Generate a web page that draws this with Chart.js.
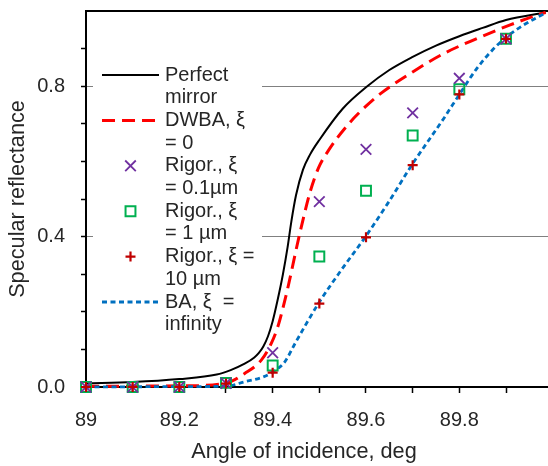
<!DOCTYPE html>
<html>
<head>
<meta charset="utf-8">
<script src="https://cdn.jsdelivr.net/npm/chart.js@4/dist/chart.umd.min.js"></script>
<style>
  html, body { margin: 0; padding: 0; background: #ffffff; overflow: hidden; }
  #wrap { position: relative; width: 548px; height: 466px; }
</style>
</head>
<body>
<div id="wrap"><canvas id="chart" width="548" height="466"></canvas></div>
<script>
// Rigorous calculations: incidence angles (deg) and specular reflectance
const angles   = [89.0, 89.1, 89.2, 89.3, 89.4, 89.5, 89.6, 89.7, 89.8, 89.9];
const rigor01  = [0.000, 0.000, 0.000, 0.010, 0.091, 0.493, 0.632, 0.729, 0.821, 0.926];
const rigor1   = [0.000, 0.000, 0.000, 0.011, 0.057, 0.347, 0.522, 0.669, 0.792, 0.926];
const rigor10  = [0.000, 0.000, 0.000, 0.009, 0.038, 0.222, 0.398, 0.590, 0.778, 0.926];

// Perfect mirror curve
const mirrorX = [89.00, 89.10, 89.20, 89.28, 89.31, 89.34, 89.36, 89.37, 89.38, 89.39, 89.40, 89.41, 89.422, 89.432, 89.44, 89.45, 89.465, 89.48, 89.50, 89.55, 89.60, 89.65, 89.70, 89.75, 89.80, 89.85, 89.90, 89.985];
const mirrorY = [0.010, 0.013, 0.021, 0.033, 0.045, 0.062, 0.078, 0.090, 0.108, 0.135, 0.175, 0.228, 0.300, 0.372, 0.440, 0.510, 0.578, 0.618, 0.657, 0.740, 0.797, 0.843, 0.878, 0.908, 0.933, 0.955, 0.976, 0.996];

// DWBA, xi = 0
const dwbaX = [89.00, 89.20, 89.30, 89.34, 89.376, 89.397, 89.411, 89.42, 89.434, 89.452, 89.466, 89.48, 89.498, 89.52, 89.563, 89.60, 89.634, 89.70, 89.767, 89.838, 89.909, 89.966, 89.985];
const dwbaY = [0.002, 0.003, 0.010, 0.036, 0.072, 0.116, 0.160, 0.200, 0.272, 0.375, 0.450, 0.518, 0.582, 0.630, 0.700, 0.747, 0.783, 0.838, 0.887, 0.927, 0.963, 0.989, 0.996];

// BA, xi = infinity
const baX = [89.00, 89.20, 89.30, 89.34, 89.38, 89.40, 89.426, 89.448, 89.498, 89.547, 89.598, 89.647, 89.698, 89.767, 89.80, 89.838, 89.87, 89.90, 89.938, 89.985];
const baY = [0.000, 0.001, 0.002, 0.014, 0.027, 0.040, 0.067, 0.116, 0.222, 0.311, 0.398, 0.489, 0.590, 0.715, 0.778, 0.848, 0.895, 0.930, 0.963, 0.995];

// Axis ticks
const xTicks = [89.0, 89.1, 89.2, 89.3, 89.4, 89.5, 89.6, 89.7, 89.8, 89.9];
const yTicks = [0.0, 0.1, 0.2, 0.3, 0.4, 0.5, 0.6, 0.7, 0.8, 0.9, 1.0];
const yLabelled = [0.0, 0.4, 0.8];
const yGridLines = [0.4, 0.8];
const xTitle = 'Angle of incidence, deg';

const FONT = "'Liberation Sans', Arial, Helvetica, sans-serif";
const TEXT = '#262626';

const pts = (xs, ys) => xs.map((x, i) => ({ x: x, y: ys[i] }));
const tenth = v => Math.round(v * 10);

// Two-line legend drawn inside the plot, top left, plus the x-axis caption
const boxLegend = {
  id: 'boxLegend',
  afterDatasetsDraw(chart) {
    const { ctx, chartArea } = chart;
    const left = chartArea.left + 7;
    const top = chartArea.top + 47;
    const rowH = 22.7;
    ctx.save();
    ctx.fillStyle = '#ffffff';
    ctx.fillRect(left, top, 169, 282);
    ctx.font = '20px ' + FONT;
    ctx.textBaseline = 'middle';
    ctx.textAlign = 'left';
    const sx0 = left + 9, sx1 = left + 66, sxc = (sx0 + sx1) / 2, tx = left + 72;
    chart.data.datasets.forEach((ds, i) => {
      const y0 = top + 17 + i * 2 * rowH;
      ctx.fillStyle = TEXT;
      ds.label.forEach((line, j) => ctx.fillText(line, tx, y0 + j * rowH));
      ctx.strokeStyle = ds.borderColor;
      ctx.lineWidth = ds.borderWidth;
      ctx.setLineDash([]);
      ctx.beginPath();
      if (ds.showLine) {
        ctx.setLineDash(ds.borderDash || []);
        ctx.moveTo(sx0, y0); ctx.lineTo(sx1, y0);
      } else if (ds.pointStyle === 'crossRot') {
        const a = ds.pointRadius * Math.SQRT1_2;
        ctx.moveTo(sxc - a, y0 - a); ctx.lineTo(sxc + a, y0 + a);
        ctx.moveTo(sxc - a, y0 + a); ctx.lineTo(sxc + a, y0 - a);
      } else if (ds.pointStyle === 'rect') {
        const a = ds.pointRadius * Math.SQRT1_2;
        ctx.rect(sxc - a, y0 - a, 2 * a, 2 * a);
      } else if (ds.pointStyle === 'cross') {
        const a = ds.pointRadius;
        ctx.moveTo(sxc - a, y0); ctx.lineTo(sxc + a, y0);
        ctx.moveTo(sxc, y0 - a); ctx.lineTo(sxc, y0 + a);
      }
      ctx.stroke();
    });
    // x-axis caption, sitting slightly left of the plot centre
    ctx.setLineDash([]);
    ctx.fillStyle = TEXT;
    ctx.font = '21.7px ' + FONT;
    ctx.textAlign = 'center';
    ctx.fillText(xTitle, chartArea.left + 218, chart.height - 14);
    ctx.restore();
  }
};

const lineBase = { showLine: true, pointRadius: 0, pointHoverRadius: 0, fill: false,
                   cubicInterpolationMode: 'monotone', borderCapStyle: 'butt', clip: false };
const markBase = { showLine: false, backgroundColor: 'rgba(0,0,0,0)', clip: false };

new Chart(document.getElementById('chart'), {
  type: 'scatter',
  data: {
    datasets: [
      Object.assign({}, lineBase, { label: ['Perfect', 'mirror'], data: pts(mirrorX, mirrorY),
        borderColor: '#000000', borderWidth: 2, order: 5 }),
      Object.assign({}, lineBase, { label: ['DWBA, ξ', '= 0'], data: pts(dwbaX, dwbaY),
        borderColor: '#ff0000', borderWidth: 3, borderDash: [13, 7], order: 4 }),
      Object.assign({}, markBase, { label: ['Rigor., ξ', '= 0.1µm'], data: pts(angles, rigor01),
        pointStyle: 'crossRot', pointRadius: 7.5, borderColor: '#7030a0', pointBorderColor: '#7030a0', borderWidth: 1.8, order: 1 }),
      Object.assign({}, markBase, { label: ['Rigor., ξ', '= 1 µm'], data: pts(angles, rigor1),
        pointStyle: 'rect', pointRadius: 7, borderColor: '#00b050', pointBorderColor: '#00b050', borderWidth: 2, order: 2 }),
      Object.assign({}, markBase, { label: ['Rigor., ξ =', '10 µm'], data: pts(angles, rigor10),
        pointStyle: 'cross', pointRadius: 5, borderColor: '#c00000', pointBorderColor: '#c00000', borderWidth: 2.2, order: 0 }),
      Object.assign({}, lineBase, { label: ['BA, ξ  =', 'infinity'], data: pts(baX, baY),
        borderColor: '#0070c0', borderWidth: 2.8, borderDash: [5, 3.5], order: 3 })
    ]
  },
  options: {
    responsive: false,
    devicePixelRatio: 1,
    animation: false,
    layout: { autoPadding: false, padding: { top: 11, right: 0, bottom: 0, left: 0 } },
    plugins: { legend: { display: false }, tooltip: { enabled: false } },
    scales: {
      x: {
        type: 'linear', min: 89, max: 89.99,
        afterBuildTicks: s => { s.ticks = xTicks.map(v => ({ value: v })); },
        afterFit: s => { s.height = 79; s.paddingLeft = 0; s.paddingRight = 0; },
        ticks: {
          autoSkip: false, maxRotation: 0, padding: 15, color: TEXT,
          font: { family: FONT, size: 20 },
          callback: v => (tenth(v) % 2 === 0 ? String(+v.toFixed(1)) : '')
        },
        grid: { drawOnChartArea: false, drawTicks: true, tickLength: 6, tickColor: '#000000', tickWidth: 1.5 },
        border: { color: '#000000', width: 2 },
        title: { display: false }
      },
      y: {
        type: 'linear', min: 0, max: 1,
        afterBuildTicks: s => { s.ticks = yTicks.map(v => ({ value: v })); },
        afterFit: s => { s.width = 86; s.paddingTop = 0; s.paddingBottom = 0; },
        ticks: {
          autoSkip: false, padding: 16, color: TEXT,
          font: { family: FONT, size: 20 },
          callback: v => (yLabelled.some(t => tenth(t) === tenth(v)) ? v.toFixed(1) : '')
        },
        grid: {
          drawOnChartArea: true, drawTicks: true, tickLength: 5, tickWidth: 1.5,
          color: c => {
            const k = tenth(c.tick.value);
            if (k === 10) return '#000000';
            return yGridLines.some(t => tenth(t) === k) ? '#808080' : 'rgba(0,0,0,0)';
          },
          lineWidth: c => (tenth(c.tick.value) === 10 ? 2 : 1),
          tickColor: c => (tenth(c.tick.value) === 10 ? 'rgba(0,0,0,0)' : '#000000')
        },
        border: { color: '#000000', width: 2 },
        title: { display: true, text: 'Specular reflectance', color: TEXT,
                 font: { family: FONT, size: 21.7 }, padding: { top: 5, bottom: 0 } }
      }
    }
  },
  plugins: [boxLegend]
});
</script>
</body>
</html>
